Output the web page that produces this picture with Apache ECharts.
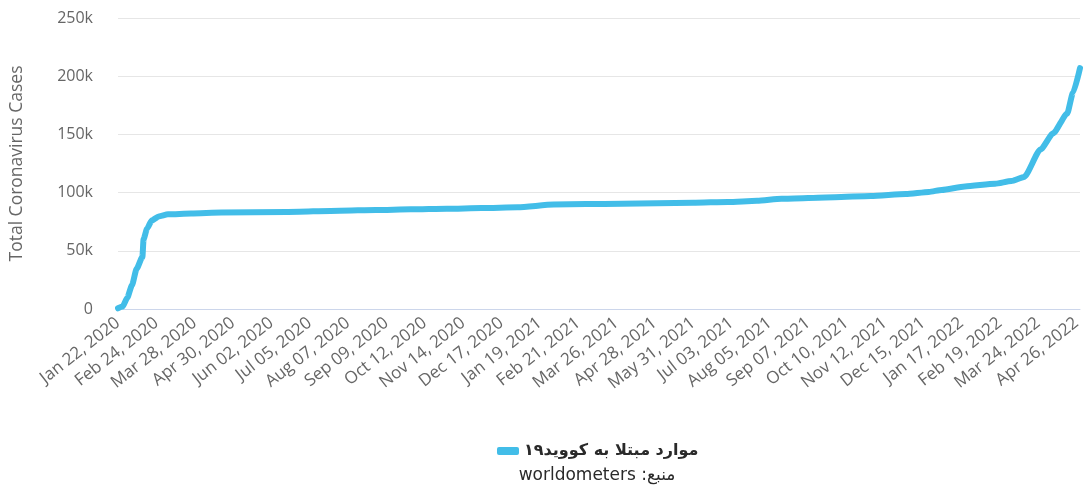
<!DOCTYPE html>
<html>
<head>
<meta charset="utf-8">
<script src="https://cdn.jsdelivr.net/npm/echarts@6/dist/echarts.min.js"></script>
<style>html,body{margin:0;padding:0;background:#fff}#c{width:1085px;height:489px}</style>
</head>
<body>
<div id="c"></div>
<script>
// Dates of readings and total cases
const dates = ['2020-01-22','2020-01-26','2020-01-30','2020-02-03','2020-02-07','2020-02-12','2020-02-13','2020-02-16','2020-02-20','2020-02-26','2020-03-05','2020-03-25','2020-04-20','2020-06-15','2020-07-31','2020-08-31','2020-09-30','2020-10-31','2020-11-30','2020-12-31','2021-01-31','2021-02-28','2021-03-31','2021-04-30','2021-05-31','2021-06-30','2021-07-25','2021-08-15','2021-09-30','2021-10-31','2021-11-30','2021-12-20','2021-12-31','2022-01-20','2022-02-15','2022-03-01','2022-03-12','2022-03-26','2022-04-06','2022-04-18','2022-04-23','2022-04-29'];
const totalCases = [571,2062,9700,20400,34500,44650,59900,69000,76000,79500,81300,82100,82900,83400,84500,85100,85600,86100,86700,87400,89700,90100,90500,90900,91300,92000,92900,94700,96100,97000,98700,100600,102300,105300,107600,110000,113500,137000,151000,168000,186000,207000];
const tickLabels = ['Jan 22, 2020','Feb 24, 2020','Mar 28, 2020','Apr 30, 2020','Jun 02, 2020','Jul 05, 2020','Aug 07, 2020','Sep 09, 2020','Oct 12, 2020','Nov 14, 2020','Dec 17, 2020','Jan 19, 2021','Feb 21, 2021','Mar 26, 2021','Apr 28, 2021','May 31, 2021','Jul 03, 2021','Aug 05, 2021','Sep 07, 2021','Oct 10, 2021','Nov 12, 2021','Dec 15, 2021','Jan 17, 2022','Feb 19, 2022','Mar 24, 2022','Apr 26, 2022'];
const seriesName = 'موارد مبتلا به کووید۱۹';
const sourceText = '\u202Bمنبع: worldometers\u202C';
const yTicks = ['0','50k','100k','150k','200k','250k'];

const start = Date.UTC(2020,0,22);
function dayIndex(s){const p=s.split('-');return Math.round((Date.UTC(+p[0],+p[1]-1,+p[2])-start)/86400000);}
const endDay = dayIndex(dates[dates.length-1]);
const seriesData = dates.map((d,i)=>[dayIndex(d), totalCases[i]]);

const chart = echarts.init(document.getElementById('c'), null, {renderer:'canvas'});
chart.setOption({
  animation:false,
  backgroundColor:'#fff',
  grid:{left:118,right:5,top:18,bottom:180},
  legend:{
    left:492, top:438,
    itemWidth:22, itemHeight:8,
    itemGap:8,
    icon:'roundRect',
    textStyle:{color:'#2a2a2a',fontSize:16,fontWeight:'bold',fontFamily:'DejaVu Sans'},
    data:[seriesName]
  },
  graphic:[{
    type:'text', x:597, y:467,
    style:{text:sourceText, fill:'#2a2a2a', font:'17px "DejaVu Sans"', align:'center'}
  }],
  xAxis:{
    type:'value', min:0, max:endDay, interval:33,
    axisLine:{show:true,lineStyle:{color:'#ccd6eb',width:1}},
    axisTick:{show:false},
    splitLine:{show:false},
    axisLabel:{
      rotate:38, color:'#666', fontSize:17, fontFamily:'Open Sans', margin:12,
      showMaxLabel:false,
      formatter:function(v){ if(v%33!==0) return ''; return tickLabels[v/33]||''; }
    }
  },
  yAxis:{
    type:'value', min:0, max:250000, interval:50000,
    name:'Total Coronavirus Cases', nameLocation:'middle', nameGap:92,
    nameTextStyle:{color:'#666',fontSize:17.5,fontFamily:'Open Sans'},
    axisLine:{show:false}, axisTick:{show:false},
    splitLine:{lineStyle:{color:'#e6e6e6',width:1}},
    axisLabel:{color:'#666',fontSize:16,fontFamily:'Open Sans',margin:25,
      formatter:function(v){return yTicks[v/50000];}}
  },
  series:[{
    name:seriesName, type:'line', data:seriesData,
    showSymbol:false, smooth:0.2, smoothMonotone:'x',
    itemStyle:{color:'#42bde8'},
    lineStyle:{color:'#42bde8',width:6,cap:'round',join:'round'}
  }]
});
</script>
</body>
</html>
